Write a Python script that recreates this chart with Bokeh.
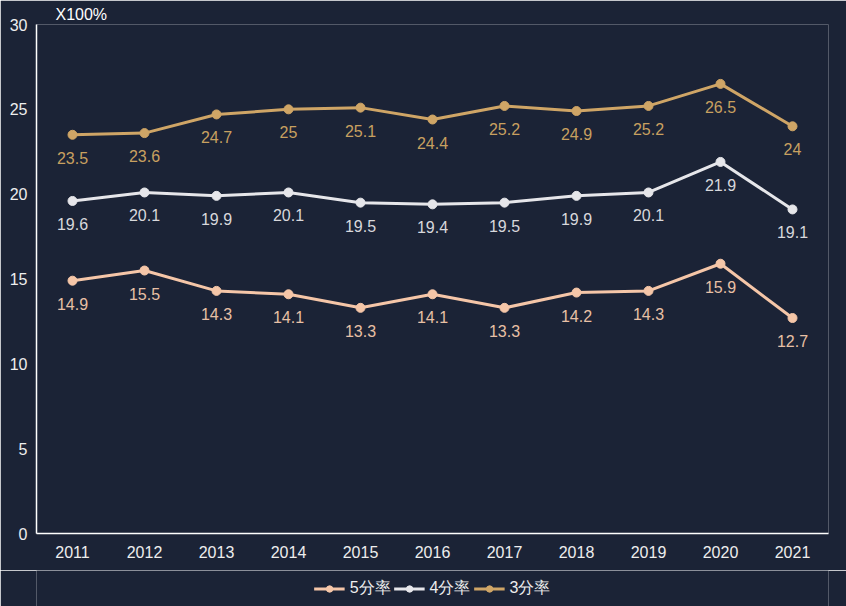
from bokeh.plotting import figure
from bokeh.layouts import column
from bokeh.models import Legend, LegendItem, ColumnDataSource
from bokeh.core.properties import value
from bokeh.embed import file_html
from bokeh.resources import INLINE

years = ["2011", "2012", "2013", "2014", "2015", "2016", "2017", "2018", "2019", "2020", "2021"]
rate5 = [14.9, 15.5, 14.3, 14.1, 13.3, 14.1, 13.3, 14.2, 14.3, 15.9, 12.7]
rate4 = [19.6, 20.1, 19.9, 20.1, 19.5, 19.4, 19.5, 19.9, 20.1, 21.9, 19.1]
rate3 = [23.5, 23.6, 24.7, 25.0, 25.1, 24.4, 25.2, 24.9, 25.2, 26.5, 24.0]
series_names = ["5分率", "4分率", "3分率"]
y_ticks = [0, 5, 10, 15, 20, 25, 30]
unit_label = "X100%"

BG = "#1b2336"
colors = ["#f5c6a8", "#e6e6ea", "#cfa566"]
label_colors = ["#e8c0a5", "#d8d8dc", "#c8a060"]
FONT = "Liberation Sans"
FS = "16px"

p = figure(width=846, height=570, x_range=years, y_range=(0, 30),
           output_backend="svg", toolbar_location=None,
           background_fill_color=BG, border_fill_color=BG,
           min_border_left=36, min_border_right=18, min_border_top=24, min_border_bottom=37)
p.outline_line_color = BG
p.outline_line_alpha = 0
p.grid.visible = False

p.title.text = unit_label
p.title.align = "left"
p.title.offset = 19
p.title.standoff = 3
p.title.text_color = "#ffffff"
p.title.text_font = FONT
p.title.text_font_size = FS
p.title.text_font_style = "normal"

for ax in (p.xaxis[0], p.yaxis[0]):
    ax.axis_line_color = "#ffffff"
    ax.axis_line_width = 1.5
    ax.major_tick_line_color = None
    ax.minor_tick_line_color = None
    ax.major_tick_out = 0
    ax.major_tick_in = 0
    ax.major_label_text_color = "#eeeeee"
    ax.major_label_text_font = FONT
    ax.major_label_text_font_size = FS
p.yaxis.ticker = y_ticks
p.yaxis.major_label_standoff = 9
p.xaxis.major_label_standoff = 12

for vals, c, lc in zip([rate5, rate4, rate3], colors, label_colors):
    src = ColumnDataSource(dict(x=years, y=vals, t=[f"{v:g}" for v in vals]))
    p.line("x", "y", source=src, line_color=c, line_width=3)
    p.scatter("x", "y", source=src, size=9, fill_color=c, line_color=c)
    p.text("x", "y", text="t", source=src, text_color=lc, text_font=value(FONT),
           text_font_size=FS, text_align="center", text_baseline="middle", y_offset=23)

# legend strip below the chart
q = figure(width=846, height=36, x_range=(0, 1), y_range=(0, 1),
           output_backend="svg", toolbar_location=None,
           x_axis_type=None, y_axis_type=None,
           background_fill_color=BG, border_fill_color=BG,
           min_border_left=0, min_border_right=0, min_border_top=0, min_border_bottom=0)
q.outline_line_color = BG
q.outline_line_alpha = 0
q.grid.visible = False
items = []
for name, c in zip(series_names, colors):
    r1 = q.line(x=[-5, -4], y=[-5, -5], line_color=c, line_width=3)
    r2 = q.scatter(x=[-5], y=[-5], size=9, fill_color=c, line_color=c)
    items.append(LegendItem(label=name, renderers=[r1, r2]))
legend = Legend(items=items, orientation="horizontal", location="center",
                background_fill_alpha=0, border_line_color=None,
                label_text_color="#eeeeee", label_text_font=FONT, label_text_font_size=FS,
                glyph_width=31, glyph_height=16, label_height=16, spacing=3, label_standoff=5,
                margin=0, padding=0)
q.add_layout(legend, "center")

layout = column(p, q, spacing=0)
html = file_html(layout, INLINE)
html = html.replace("<body>", '<body style="margin:0;background:%s;">' % BG, 1)
open("out.html", "w").write(html)
